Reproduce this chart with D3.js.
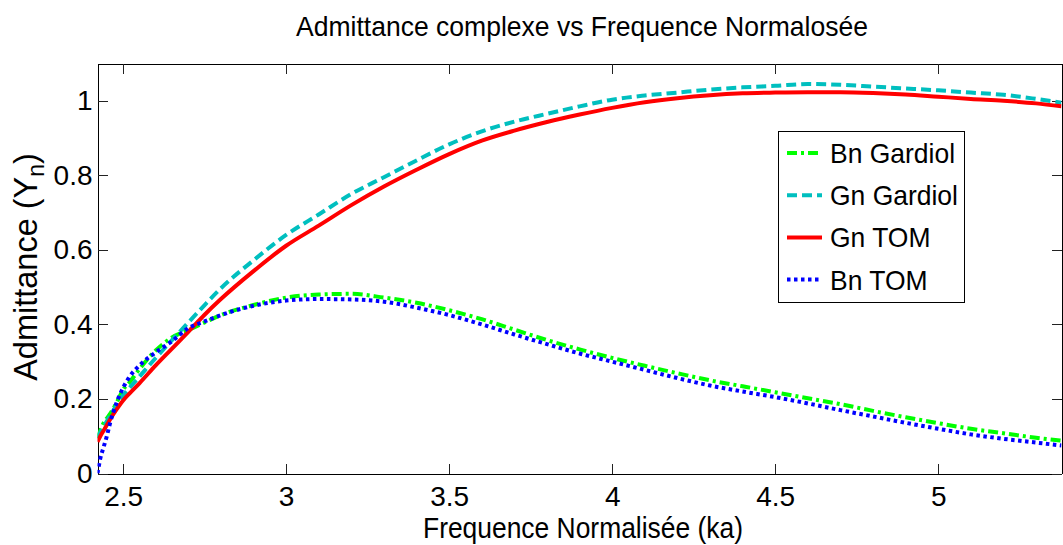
<!DOCTYPE html>
<html><head><meta charset="utf-8">
<script src="https://cdn.jsdelivr.net/npm/d3@7"></script>
<style>
body{margin:0;background:#fff}
svg{display:block}
text{font-family:"Liberation Sans",Arial,Helvetica,sans-serif;fill:#000}
</style>
</head><body>
<svg id="c" width="1063" height="545"></svg>
<script>
// ---- data ----
const ka = [2.4215, 2.43, 2.44, 2.45, 2.46, 2.48, 2.5, 2.52, 2.55, 2.6, 2.65, 2.7, 2.75, 2.8, 2.9,
  3.0, 3.1, 3.2, 3.3, 3.4, 3.5, 3.6, 3.7, 3.8, 3.9, 4.0, 4.1, 4.2, 4.3, 4.4, 4.5, 4.6, 4.7, 4.8, 4.9,
  5.0, 5.1, 5.2, 5.3, 5.378];
const bnGardiol = [0.095, 0.115, 0.135, 0.148, 0.16, 0.19, 0.225, 0.245, 0.28, 0.33, 0.365, 0.385, 0.405, 0.425, 0.452,
  0.472, 0.48, 0.482, 0.472, 0.458, 0.438, 0.414, 0.386, 0.358, 0.333, 0.31, 0.289, 0.269, 0.25, 0.234, 0.218, 0.202, 0.186, 0.168, 0.151,
  0.135, 0.12, 0.108, 0.096, 0.088];
const gnGardiol = [0.095, 0.11, 0.125, 0.14, 0.155, 0.183, 0.21, 0.23, 0.26, 0.31, 0.358, 0.405, 0.452, 0.497, 0.572,
  0.64, 0.695, 0.75, 0.795, 0.84, 0.883, 0.918, 0.944, 0.965, 0.985, 1.003, 1.014, 1.022, 1.03, 1.036, 1.04, 1.045, 1.043, 1.038, 1.033,
  1.028, 1.022, 1.016, 1.005, 0.995];
const gnTom = [0.085, 0.1, 0.115, 0.13, 0.145, 0.172, 0.196, 0.215, 0.242, 0.29, 0.335, 0.38, 0.426, 0.468, 0.543,
  0.611, 0.665, 0.72, 0.77, 0.815, 0.857, 0.893, 0.92, 0.943, 0.963, 0.981, 0.996, 1.007, 1.015, 1.02, 1.022, 1.023, 1.023, 1.021, 1.017,
  1.011, 1.005, 1.0, 0.993, 0.985];
const bnTom = [0.0, 0.04, 0.07, 0.1, 0.135, 0.19, 0.23, 0.26, 0.29, 0.325, 0.355, 0.39, 0.408, 0.425, 0.45,
  0.464, 0.468, 0.467, 0.461, 0.445, 0.425, 0.4, 0.373, 0.347, 0.322, 0.3, 0.278, 0.256, 0.236, 0.22, 0.205, 0.188, 0.17, 0.153, 0.136,
  0.12, 0.105, 0.093, 0.083, 0.075];
const seriesNames = ["Bn Gardiol", "Gn Gardiol", "Gn TOM", "Bn TOM"];
const xTicks = [2.5, 3, 3.5, 4, 4.5, 5];
const yTicks = [0, 0.2, 0.4, 0.6, 0.8, 1];
const xDomain = [2.4215, 5.378];
const yDomain = [0, 1.1];
const titleText = "Admittance complexe vs Frequence Normalosée";
const xLabelText = "Frequence Normalisée (ka)";
const yLabelMain = "Admittance (Y";
const yLabelSub = "n";

// ---- styles ----
const styles = [
  {color: "#00ff00", dash: "10,4,3,4"},
  {color: "#00bfbf", dash: "10,5"},
  {color: "#ff0000", dash: null},
  {color: "#0000ff", dash: "3.5,3.5"}
];
const seriesVals = [bnGardiol, gnGardiol, gnTom, bnTom];
const squeeze = 0.945;

const L = 97.5, R = 1061.5, T = 63.5, B = 473.5;
const svg = d3.select("#c");
const x = d3.scaleLinear().domain(xDomain).range([L, R]);
const y = d3.scaleLinear().domain(yDomain).range([B, T]);

function condense(sel) {
  sel.each(function() {
    const w = this.getComputedTextLength();
    d3.select(this).attr("textLength", w * squeeze).attr("lengthAdjust", "spacingAndGlyphs");
  });
}

// axes
const tick = 10;
const gx = svg.append("g").attr("transform", `translate(0,${B})`)
  .call(d3.axisBottom(x).tickValues(xTicks).tickFormat(d3.format("")).tickSizeInner(-tick).tickSizeOuter(0).tickPadding(13));
const gxt = svg.append("g").attr("transform", `translate(0,${T})`)
  .call(d3.axisTop(x).tickValues(xTicks).tickFormat("").tickSizeInner(-tick).tickSizeOuter(0));
const gy = svg.append("g").attr("transform", `translate(${L},0)`)
  .call(d3.axisLeft(y).tickValues(yTicks).tickFormat(d3.format("")).tickSizeInner(-tick).tickSizeOuter(0).tickPadding(5));
const gyr = svg.append("g").attr("transform", `translate(${R},0)`)
  .call(d3.axisRight(y).tickValues(yTicks).tickFormat("").tickSizeInner(-tick).tickSizeOuter(0));
[gx, gxt, gy, gyr].forEach(g => {
  g.selectAll(".domain").attr("stroke", "#000").attr("stroke-width", 1).attr("shape-rendering", "crispEdges");
  g.selectAll(".tick line").attr("stroke", "#222").attr("stroke-width", 1).attr("shape-rendering", "crispEdges");
  g.selectAll(".tick text").attr("font-size", 28).attr("font-family", "'Liberation Sans',Arial,sans-serif").attr("fill", "#000");
});

// lines
svg.append("clipPath").attr("id", "clp").append("rect")
  .attr("x", L).attr("y", T).attr("width", R - L).attr("height", B - T);
const line = d3.line().x(d => x(d[0])).y(d => y(d[1])).curve(d3.curveMonotoneX);
const plot = svg.append("g").attr("clip-path", "url(#clp)");
seriesVals.forEach((vals, i) => {
  plot.append("path")
    .datum(ka.map((k, j) => [k, vals[j]]))
    .attr("d", line)
    .attr("fill", "none")
    .attr("stroke", styles[i].color)
    .attr("stroke-width", 4)
    .attr("stroke-dasharray", styles[i].dash)
    .attr("stroke-linejoin", "round");
});

// legend
const lg = svg.append("g");
lg.append("rect").attr("x", 778.5).attr("y", 131.5).attr("width", 186).attr("height", 171)
  .attr("fill", "#fff").attr("stroke", "#000").attr("stroke-width", 1);
seriesNames.forEach((name, i) => {
  const ry = 153 + i * 42.2;
  lg.append("line").attr("x1", 787).attr("x2", 822).attr("y1", ry).attr("y2", ry)
    .attr("stroke", styles[i].color).attr("stroke-width", 4).attr("stroke-dasharray", styles[i].dash);
  lg.append("text").attr("x", 830).attr("y", ry).attr("dy", "0.36em").attr("font-size", 28).text(name).call(condense);
});

// titles
svg.append("text").attr("x", 582).attr("y", 36).attr("text-anchor", "middle").attr("font-size", 28.5)
  .attr("textLength", 572).attr("lengthAdjust", "spacingAndGlyphs").text(titleText);
svg.append("text").attr("x", 583).attr("y", 538).attr("text-anchor", "middle").attr("font-size", 29)
  .attr("textLength", 320).attr("lengthAdjust", "spacingAndGlyphs").text(xLabelText);
const yl = svg.append("text").attr("transform", "translate(37,267) rotate(-90)").attr("text-anchor", "middle").attr("font-size", 32.5);
yl.append("tspan").text(yLabelMain);
yl.append("tspan").attr("font-size", 23).attr("dy", 7).text(yLabelSub);
yl.append("tspan").attr("dy", -7).text(")");
</script>
</body></html>
